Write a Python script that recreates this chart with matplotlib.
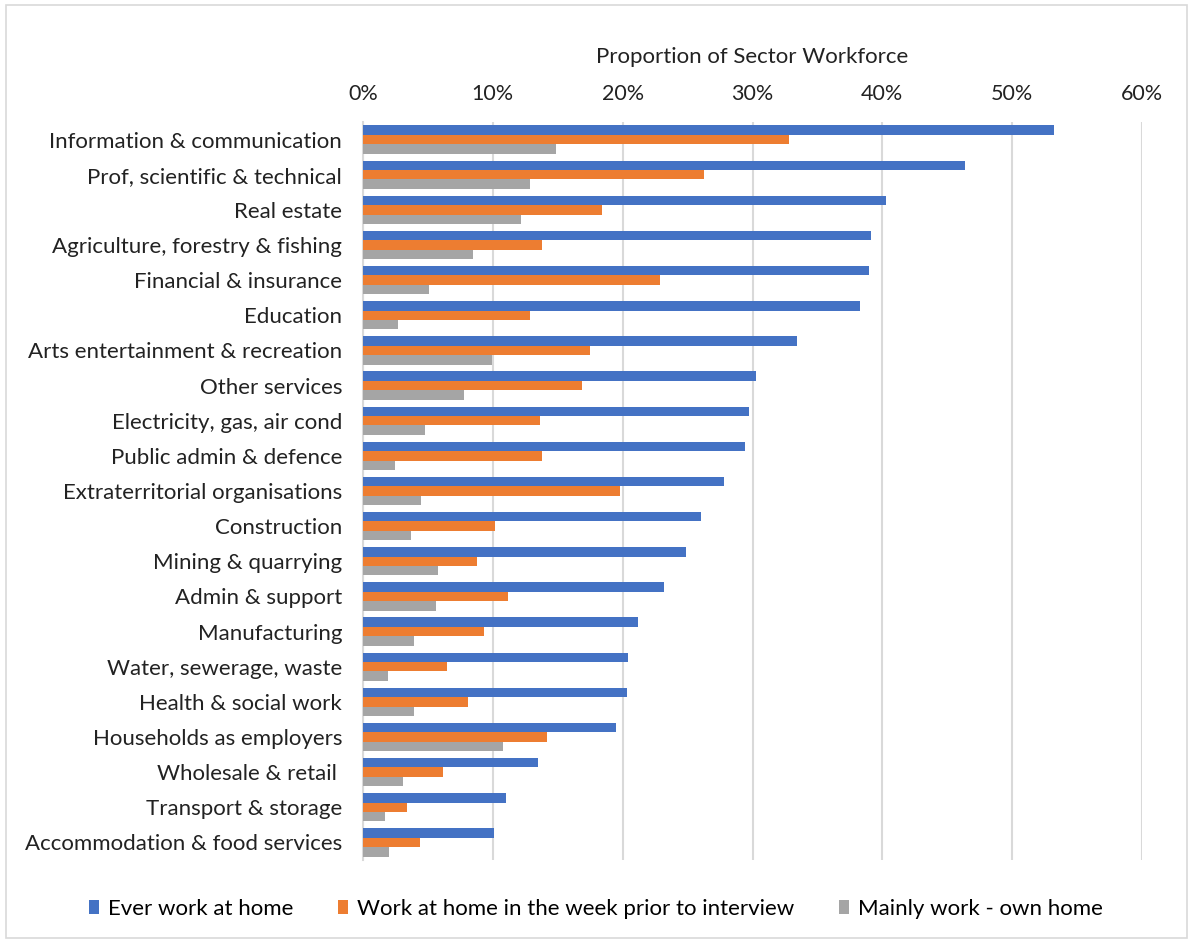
import matplotlib.pyplot as plt
import numpy as np
from matplotlib.patches import Rectangle

plt.rcParams['font.family'] = ['Lato', 'DejaVu Sans']

sectors = ["Information & communication", "Prof, scientific & technical", "Real estate",
           "Agriculture, forestry & fishing", "Financial & insurance", "Education",
           "Arts entertainment & recreation", "Other services", "Electricity, gas, air cond",
           "Public admin & defence", "Extraterritorial organisations", "Construction",
           "Mining & quarrying", "Admin & support", "Manufacturing", "Water, sewerage, waste",
           "Health & social work", "Households as employers", "Wholesale & retail ",
           "Transport & storage", "Accommodation & food services"]

ever_home = [53.2, 46.4, 40.3, 39.1, 39.0, 38.3, 33.4, 30.3, 29.7, 29.4, 27.8,
             26.0, 24.9, 23.2, 21.2, 20.4, 20.3, 19.5, 13.5, 11.0, 10.1]
week_prior = [32.8, 26.3, 18.4, 13.8, 22.9, 12.9, 17.5, 16.9, 13.6, 13.8, 19.8,
              10.2, 8.8, 11.2, 9.3, 6.5, 8.1, 14.2, 6.2, 3.4, 4.4]
mainly_home = [14.9, 12.9, 12.2, 8.5, 5.1, 2.7, 9.9, 7.8, 4.8, 2.5, 4.5,
               3.7, 5.8, 5.6, 3.9, 1.9, 3.9, 10.8, 3.1, 1.7, 2.0]

series_names = ["Ever work at home", "Work at home in the week prior to interview",
                "Mainly work - own home"]
colors = ["#4472C4", "#ED7D31", "#A5A5A5"]

W, H = 1192, 942
fig = plt.figure(figsize=(W / 100, H / 100), dpi=100)
fig.patches.append(Rectangle((6 / W, 4 / H), 1181 / W, 933 / H, transform=fig.transFigure,
                             fill=False, edgecolor="#d9d9d9", linewidth=1.2))

ax = fig.add_axes([363 / W, 1 - 860 / H, (1142 - 363) / W, (860 - 122) / H])

y = np.arange(len(sectors))
h = 0.267
for i, (vals, name, c) in enumerate(zip([ever_home, week_prior, mainly_home], series_names, colors)):
    ax.barh(y + (i - 1) * h, np.array(vals) / 100, height=h, color=c, label=name, zorder=3)

ax.set_ylim(len(sectors) - 0.5, -0.5)
ax.set_xlim(0, 0.6)
ax.set_xticks(np.arange(0, 0.61, 0.1))
ax.set_xticklabels([f"{int(round(t * 100))}%" for t in np.arange(0, 0.61, 0.1)])
ax.xaxis.tick_top()
ax.xaxis.set_label_position("top")
ax.set_xlabel("Proportion of Sector Workforce", fontsize=16, labelpad=15, color="#222222")
ax.set_yticks(y)
ax.set_yticklabels(sectors)
ax.tick_params(axis="x", length=0, pad=13, labelsize=15.5, labelcolor="#222222")
ax.tick_params(axis="y", length=0, pad=15, labelsize=16, labelcolor="#222222")
ax.grid(axis="x", color="#d9d9d9", linewidth=1.5, zorder=0)
for s in ["top", "right", "bottom"]:
    ax.spines[s].set_visible(False)
ax.spines["left"].set_color("#d9d9d9")
ax.spines["left"].set_linewidth(1.5)

fig.legend(loc="center", bbox_to_anchor=(0.5, 1 - 909 / H), ncol=3, frameon=False,
           fontsize=16, handlelength=0.45, handleheight=0.6, handletextpad=0.4,
           columnspacing=2.0)

fig.savefig("out.png", dpi=100, facecolor="white")
